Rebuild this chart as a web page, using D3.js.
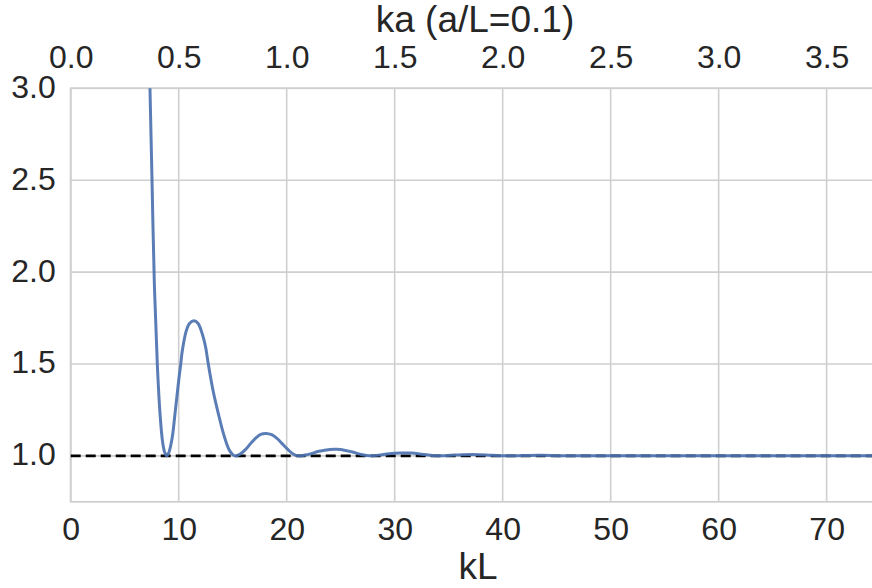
<!DOCTYPE html>
<html>
<head>
<meta charset="utf-8">
<script src="https://cdn.jsdelivr.net/npm/d3@7"></script>
<style>
  html, body { margin: 0; padding: 0; background: #ffffff; }
  svg { display: block; }
  text { font-family: "Liberation Sans", Arial, sans-serif; fill: #262626; }
</style>
</head>
<body>
<svg id="chart" width="872" height="588"></svg>
<script>
// ---- data ----
const kL = [7.0, 7.2, 7.34, 7.53, 7.74, 8.02, 8.27, 8.5, 8.7, 8.9, 9.1, 9.4, 9.66, 10.0, 10.19, 10.33, 10.7, 11.0, 11.42, 11.8, 12.2, 12.5, 12.74, 13.2, 13.67, 14.2, 14.7, 15.2,
  15.7, 16.2, 16.7, 17.2, 17.6, 18.1, 18.6, 19.1, 19.6, 20.1, 20.6, 21.1,
  22.0, 23.0, 24.0, 24.5, 25.0, 26.0, 27.0, 27.7,
  28.5, 29.5, 30.5, 31.0, 31.5, 32.5, 33.5, 34.0,
  35.5, 37.3, 39.0, 40.3, 42.0, 43.6, 45.2, 46.6, 50.0, 53.0, 56.0, 59.2, 62.5, 65.5, 68.7, 71.8, 74.3];
const ratio = [3.9, 3.35, 3.0, 2.5, 1.95, 1.5, 1.23, 1.08, 1.02, 1.0, 1.02, 1.10, 1.23, 1.41, 1.5, 1.57, 1.68, 1.72, 1.735, 1.72, 1.66, 1.59, 1.5, 1.35, 1.23, 1.11, 1.03, 1.0,
  1.01, 1.035, 1.07, 1.10, 1.117, 1.122, 1.115, 1.095, 1.065, 1.035, 1.01, 1.0,
  1.008, 1.025, 1.035, 1.036, 1.035, 1.022, 1.006, 1.0,
  1.004, 1.012, 1.016, 1.016, 1.015, 1.009, 1.002, 1.0,
  1.004, 1.007, 1.003, 1.0, 1.002, 1.003, 1.001, 1.0, 1.001, 1.0, 1.001, 1.0, 1.0005, 1.0, 1.0, 1.0, 1.0];
const xTicks = [0, 10, 20, 30, 40, 50, 60, 70];
const yTicks = [1.0, 1.5, 2.0, 2.5, 3.0];
const topTicks = [0.0, 0.5, 1.0, 1.5, 2.0, 2.5, 3.0, 3.5];
const referenceLevel = 1.0;
const xLabel = "kL";
const topLabel = "ka (a/L=0.1)";

// ---- layout ----
const svg = d3.select("#chart");
const mLeft = 70.7, mRight = 872, mTop = 88.3, mBottom = 501.8;
const xMax = 74.2;

const x = d3.scaleLinear().domain([0, xMax]).range([mLeft, mRight]);
const xTop = d3.scaleLinear().domain([0, xMax / 20]).range([mLeft, mRight]);
const y = d3.scaleLinear().domain([0.75, 3.0]).range([mBottom, mTop]);

const gridColor = "#cfcfcf";

// grid
svg.append("g").selectAll("line").data(xTicks).join("line")
  .attr("x1", d => x(d)).attr("x2", d => x(d))
  .attr("y1", mTop).attr("y2", mBottom)
  .attr("stroke", gridColor).attr("stroke-width", 1.6);
svg.append("g").selectAll("line").data(yTicks).join("line")
  .attr("x1", mLeft).attr("x2", mRight)
  .attr("y1", d => y(d)).attr("y2", d => y(d))
  .attr("stroke", gridColor).attr("stroke-width", 1.6);

// frame (spines)
svg.append("rect")
  .attr("x", mLeft).attr("y", mTop)
  .attr("width", mRight - mLeft + 2).attr("height", mBottom - mTop)
  .attr("fill", "none").attr("stroke", gridColor).attr("stroke-width", 1.8);

// clip
svg.append("clipPath").attr("id", "clip").append("rect")
  .attr("x", mLeft).attr("y", mTop).attr("width", mRight - mLeft).attr("height", mBottom - mTop);

// dashed reference line
svg.append("line")
  .attr("x1", x(0)).attr("x2", x(xMax))
  .attr("y1", y(referenceLevel)).attr("y2", y(referenceLevel))
  .attr("stroke", "#000").attr("stroke-width", 2.6)
  .attr("stroke-dasharray", "10,5");

// curve
const pts = kL.map((k, i) => [k, ratio[i]]);
const line = d3.line().x(d => x(d[0])).y(d => y(d[1])).curve(d3.curveCatmullRom.alpha(0.5));
svg.append("path")
  .datum(pts)
  .attr("clip-path", "url(#clip)")
  .attr("d", line)
  .attr("fill", "none")
  .attr("stroke", "#4C72B0")
  .attr("stroke-width", 3)
  .attr("stroke-opacity", 0.92)
  .attr("stroke-linejoin", "round");

// axes tick labels
const tickSize = 32;
const fontFam = '"Liberation Sans", Arial, sans-serif';
const bottomAxis = d3.axisBottom(x).tickValues(xTicks).tickFormat(d3.format("d")).tickSize(0).tickPadding(0);
const gB = svg.append("g").attr("transform", `translate(0,${mBottom})`).call(bottomAxis);
gB.select(".domain").remove();
gB.selectAll("text").attr("y", 38).attr("dy", null)
  .style("font-size", tickSize + "px").attr("fill", "#262626").style("font-family", fontFam);

const topAxis = d3.axisTop(xTop).tickValues(topTicks).tickFormat(d3.format(".1f")).tickSize(0).tickPadding(0);
const gT = svg.append("g").attr("transform", `translate(0,${mTop})`).call(topAxis);
gT.select(".domain").remove();
gT.selectAll("text").attr("y", -20).attr("dy", null)
  .style("font-size", tickSize + "px").attr("fill", "#262626").style("font-family", fontFam);

const leftAxis = d3.axisLeft(y).tickValues(yTicks).tickFormat(d3.format(".1f")).tickSize(0).tickPadding(0);
const gL = svg.append("g").attr("transform", `translate(${mLeft},0)`).call(leftAxis);
gL.select(".domain").remove();
gL.selectAll("text").attr("x", -15).attr("dy", "9px")
  .style("font-size", tickSize + "px").attr("fill", "#262626").style("font-family", fontFam);

// axis labels
svg.append("text")
  .attr("x", 478).attr("y", 579)
  .attr("text-anchor", "middle")
  .style("font-size", "37px")
  .text(xLabel);
svg.append("text")
  .attr("x", 475).attr("y", 32)
  .attr("text-anchor", "middle")
  .style("font-size", "37px")
  .text(topLabel);
</script>
</body>
</html>
